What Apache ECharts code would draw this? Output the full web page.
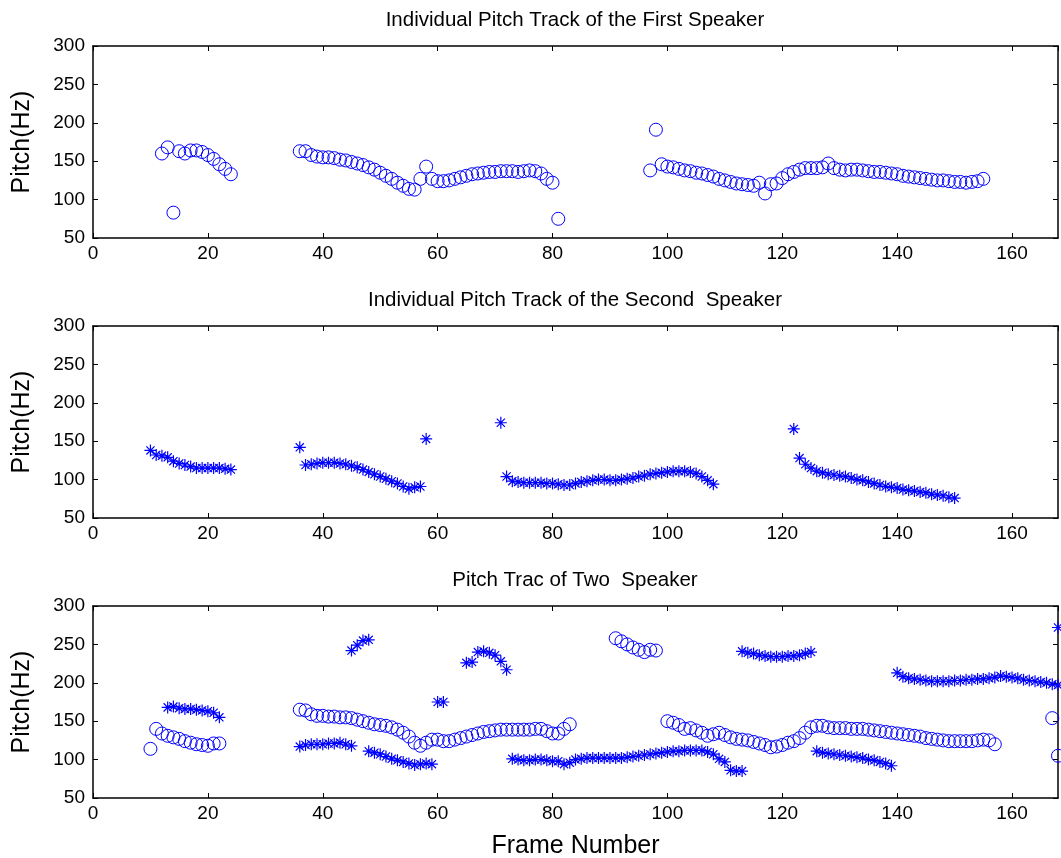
<!DOCTYPE html>
<html lang="en">
<head>
  <meta charset="UTF-8">
  <title>Pitch tracks</title>
  <script src="https://cdn.jsdelivr.net/npm/echarts@6/dist/echarts.min.js"></script>
  <style>
    html, body { margin: 0; padding: 0; background: #fff; }
    #chart { width: 1061px; height: 858px; }
  </style>
</head>
<body>
  <div id="chart"></div>
  <script type="text/javascript">
    // titles
    const titles = [
      'Individual Pitch Track of the First Speaker',
      'Individual Pitch Track of the Second  Speaker',
      'Pitch Trac of Two  Speaker'
    ];
    const xTicks = [0, 20, 40, 60, 80, 100, 120, 140, 160];
    const yTicks = [50, 100, 150, 200, 250, 300];

    // segments: [first frame, pitch values for consecutive frames]
    // panel 1 - first speaker (circles)
    const speaker1 = [
      [12, [160, 168, 83, 163, 160, 164, 164, 162, 158, 153, 146, 140, 133]],
      [36, [163, 163, 158, 156, 155, 155, 154, 152, 151, 149, 147, 145, 142, 139, 135, 131, 127,
            122, 118, 114, 113, 127, 143, 127, 124, 124, 125, 127, 129, 131, 133, 134, 135, 136,
            136, 137, 137, 137, 136, 137, 138, 137, 134, 127, 122, 75]],
      [97, [138, 191, 146, 143, 142, 140, 138, 137, 135, 134, 132, 130, 127, 125, 123, 121, 120,
            119, 118, 122, 108, 120, 121, 128, 133, 136, 139, 141, 141, 141, 142, 147, 141, 139,
            138, 139, 139, 138, 137, 136, 136, 135, 134, 133, 131, 130, 129, 128, 127, 126, 125,
            125, 124, 123, 123, 122, 123, 124, 127]]
    ];

    // panel 2 - second speaker (asterisks)
    const speaker2 = [
      [10, [138, 132, 131, 129, 124, 121, 119, 117, 115, 115, 115, 115, 115, 114, 113]],
      [36, [142, 119, 120, 121, 122, 122, 122, 121, 120, 118, 116, 113, 110, 107, 104, 101, 98,
            95, 91, 88, 90, 91]],
      [58, [153]],
      [71, [174]],
      [72, [104, 98, 97, 96, 96, 96, 96, 95, 95, 94, 93, 93, 95, 97, 98, 99, 100, 100, 99, 99,
            100, 101, 102, 104, 105, 107, 108, 109, 110, 111, 111, 111, 110, 108, 104, 99, 94]],
      [122, [166, 128, 120, 115, 111, 109, 107, 106, 105, 104, 102, 100, 99, 97, 95, 93, 91, 90,
             89, 87, 86, 85, 84, 83, 81, 80, 79, 77, 76]]
    ];

    // panel 3 - both speakers mixed
    const mixedCircles = [
      [10, [114, 140, 134, 131, 129, 127, 124, 122, 120, 119, 118, 121, 121]],
      [36, [165, 164, 159, 157, 157, 156, 156, 155, 155, 154, 152, 150, 148, 146, 145, 144, 142,
            139, 135, 130, 122, 118, 122, 126, 126, 124, 124, 126, 128, 130, 132, 134, 136, 137,
            138, 139, 139, 139, 139, 139, 139, 140, 140, 137, 134, 134, 140, 146]],
      [91, [258, 254, 250, 246, 243, 240, 243, 242]],
      [100, [150, 148, 145, 140, 141, 138, 135, 131, 133, 135, 132, 129, 127, 126, 125, 123, 121,
             119, 116, 117, 119, 122, 124, 128, 135, 142, 144, 144, 142, 141, 141, 141, 140, 140,
             140, 139, 138, 137, 136, 135, 134, 133, 132, 131, 130, 128, 127, 126, 125, 124, 124,
             124, 124, 124, 125, 126, 125, 120]],
      [167, [154, 105]]
    ];
    const mixedStars = [
      [13, [168, 169, 167, 166, 166, 165, 164, 163, 161, 155]],
      [36, [117, 119, 120, 120, 120, 121, 121, 122, 120, 118]],
      [45, [242, 249, 255, 256]],
      [48, [111, 109, 107, 104, 101, 99, 97, 95, 93, 94, 95, 94]],
      [60, [175, 175]],
      [65, [226, 227, 240, 241, 239, 236, 228, 217]],
      [73, [101, 100, 99, 99, 100, 100, 99, 98, 98, 94, 96, 100, 101, 102, 102, 102, 102, 102,
            102, 102, 103, 104, 105, 106, 107, 108, 109, 110, 111, 111, 112, 112, 112, 112, 110,
            107, 101, 97, 86, 85, 85]],
      [113, [241, 239, 238, 236, 235, 234, 234, 234, 235, 235, 236, 238, 240]],
      [126, [111, 109, 108, 107, 106, 105, 104, 103, 102, 100, 99, 97, 95, 92]],
      [140, [213, 208, 206, 205, 204, 203, 202, 202, 202, 202, 203, 203, 204, 204, 205, 205, 206,
             207, 209, 208, 207, 206, 204, 203, 202, 201, 200, 198, 197]],
      [168, [272]]
    ];

    const FONT = '"Liberation Sans", Arial, Helvetica, sans-serif';
    const BLUE = '#0000ff';
    const STAR = 'path://M0,5L10,5M5,0L5,10M1.6,1.6L8.4,8.4M1.6,8.4L8.4,1.6';

    function toPoints(segments) {
      const pts = [];
      segments.forEach(([start, values]) => {
        values.forEach((v, i) => pts.push([start + i, v]));
      });
      return pts;
    }

    const panelTops = [46, 326, 606];
    const panelHeight = 192;

    const grid = [];
    const xAxis = [];
    const yAxis = [];
    const title = [];

    panelTops.forEach((top, i) => {
      grid.push({ left: 93, right: 3, top: top, height: panelHeight, outerBoundsMode: 'none' });
      title.push({
        text: titles[i],
        left: 570,
        top: top - 41,
        textAlign: 'center',
        textStyle: { fontFamily: FONT, fontSize: 20.5, fontWeight: 'normal', color: '#000' }
      });
      const line = { show: true, onZero: false, lineStyle: { color: '#000', width: 1.5 } };
      const tick = { show: true, inside: true, length: 5, lineStyle: { color: '#000', width: 1 } };
      xAxis.push({
        gridIndex: i, type: 'value', position: 'bottom',
        min: xTicks[0], max: 168, interval: 20,
        axisLine: line, axisTick: tick, splitLine: { show: false },
        axisLabel: { fontFamily: FONT, fontSize: 19, color: '#000', margin: 6, showMaxLabel: false },
        name: i === 2 ? 'Frame Number' : '',
        nameLocation: 'middle', nameGap: 36,
        nameTextStyle: { fontFamily: FONT, fontSize: 25, color: '#000' }
      });
      xAxis.push({
        gridIndex: i, type: 'value', position: 'top',
        min: xTicks[0], max: 168, interval: 20,
        axisLine: line, axisTick: tick, splitLine: { show: false },
        axisLabel: { show: false }
      });
      yAxis.push({
        gridIndex: i, type: 'value', position: 'left',
        min: yTicks[0], max: yTicks[yTicks.length - 1], interval: 50,
        axisLine: line, axisTick: tick, splitLine: { show: false },
        axisLabel: { fontFamily: FONT, fontSize: 19, color: '#000', margin: 8 },
        name: 'Pitch(Hz)', nameLocation: 'middle', nameGap: 58,
        nameTextStyle: { fontFamily: FONT, fontSize: 25, color: '#000' }
      });
      yAxis.push({
        gridIndex: i, type: 'value', position: 'right',
        min: yTicks[0], max: yTicks[yTicks.length - 1], interval: 50,
        axisLine: line, axisTick: tick, splitLine: { show: false },
        axisLabel: { show: false }
      });
    });

    function scatter(panel, points, symbol, size, width) {
      return {
        type: 'scatter',
        xAxisIndex: panel * 2,
        yAxisIndex: panel * 2,
        data: points,
        symbol: symbol,
        symbolSize: size,
        clip: true,
        silent: true,
        itemStyle: { color: 'rgba(0,0,0,0)', borderColor: BLUE, borderWidth: width, opacity: 1 }
      };
    }

    const myChart = echarts.init(document.getElementById('chart'));
    myChart.setOption({
      animation: false,
      backgroundColor: '#fff',
      title,
      grid,
      xAxis,
      yAxis,
      series: [
        scatter(0, toPoints(speaker1), 'circle', 13, 1),
        scatter(1, toPoints(speaker2), STAR, 12, 1.2),
        scatter(2, toPoints(mixedCircles), 'circle', 13, 1),
        scatter(2, toPoints(mixedStars), STAR, 12, 1.2)
      ]
    });
  </script>
</body>
</html>
